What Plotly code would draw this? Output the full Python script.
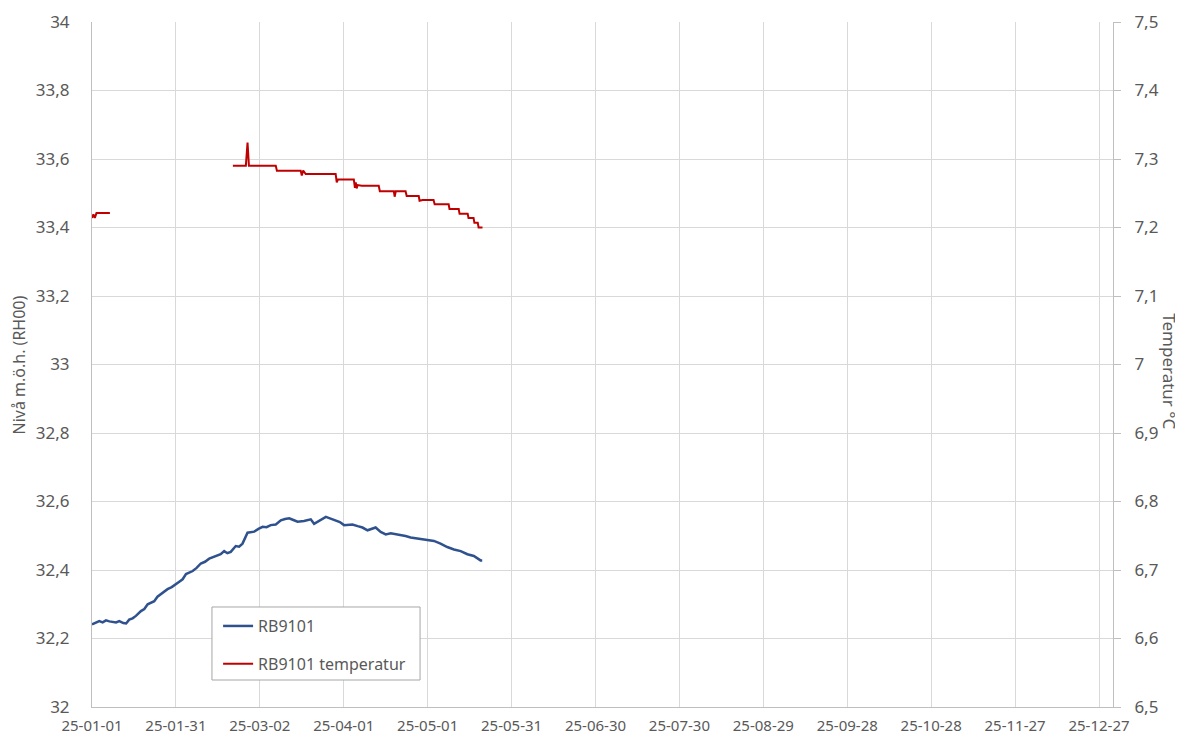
import pandas as pd
import plotly.graph_objects as go

# Level series (RB9101), days since 2025-01-01 and level in m.ö.h.
level_days = [0, 1.3, 2.6, 3.8, 5, 6.2, 7.4, 8.6, 9.75, 11.2, 12.2, 13.3, 14.5, 15.7, 17.5, 18.7,
              19.9, 21.0, 22.25, 23.4, 24.6, 25.8, 27.0, 28.5, 30, 31.2, 32.4, 33.6, 36, 37.4,
              38.9, 40.4, 41.9, 44.9, 46.0, 47.25, 48.4, 49.6, 51.4, 52.6, 53.8, 55.6, 58, 59.5,
              61, 62.4, 63.9, 65.7, 67.5, 69.0, 70.5, 72.0, 73.5, 75.8, 78.2, 79.4, 80, 81.8,
              83.6, 85.3, 87.1, 88.6, 90.1, 93.1, 95.0, 96.7, 98.5, 101.4, 103.2, 105, 106.8,
              108.6, 110.3, 112.1, 113.9, 115.7, 117.5, 119.3, 122.25, 124.6, 127, 129.4, 131.8,
              134.2, 136.5, 138.9, 139.5]
level_vals = [32.241, 32.247, 32.251, 32.247, 32.253, 32.250, 32.249, 32.247, 32.251, 32.245,
              32.244, 32.255, 32.259, 32.266, 32.280, 32.286, 32.300, 32.304, 32.309, 32.322,
              32.329, 32.337, 32.344, 32.350, 32.360, 32.366, 32.373, 32.388, 32.397, 32.406,
              32.419, 32.424, 32.433, 32.441, 32.446, 32.455, 32.449, 32.453, 32.470, 32.468,
              32.477, 32.509, 32.512, 32.520, 32.526, 32.525, 32.531, 32.533, 32.545, 32.549,
              32.551, 32.546, 32.541, 32.543, 32.548, 32.535, 32.538, 32.546, 32.555, 32.550,
              32.545, 32.540, 32.531, 32.533, 32.528, 32.524, 32.516, 32.524, 32.511, 32.504,
              32.507, 32.505, 32.502, 32.499, 32.495, 32.493, 32.490, 32.487, 32.485, 32.477,
              32.467, 32.460, 32.455, 32.446, 32.441, 32.428, 32.428]

# Temperature series (RB9101 temperatur), None marks the data gap
temp_days = [0, 0.5, 1.0, 1.6, 6.4, 20,
             50.36, 55.0, 55.6, 56.1, 65.7, 66.1, 74.6, 75.0, 75.5, 76.4, 87.1, 87.5, 87.9,
             93.6, 94.0, 94.3, 94.6, 95.0, 96.4, 102.5, 102.9, 107.9, 108.2, 108.6, 112.1,
             112.5, 113.2, 116.8, 117.1, 118.2, 122.1, 122.5, 127.5, 127.8, 131.1, 131.4,
             134.3, 134.6, 136.4, 136.7, 137.9, 138.2, 139.6]
temp_vals = [7.214, 7.219, 7.214, 7.221, 7.221, None,
             7.290, 7.290, 7.324, 7.290, 7.290, 7.283, 7.283, 7.276, 7.283, 7.278, 7.278, 7.266, 7.270,
             7.270, 7.258, 7.266, 7.257, 7.262, 7.261, 7.261, 7.253, 7.253, 7.245, 7.253, 7.253,
             7.246, 7.246, 7.246, 7.239, 7.240, 7.240, 7.234, 7.234, 7.227, 7.227, 7.220,
             7.220, 7.214, 7.214, 7.207, 7.207, 7.200, 7.200]

series_names = ["RB9101", "RB9101 temperatur"]
y_left_title = "Nivå m.ö.h. (RH00)"
y_right_title = "Temperatur °C"

start = pd.Timestamp("2025-01-01")
level_x = [start + pd.Timedelta(days=d) for d in level_days]
temp_x = [start + pd.Timedelta(days=d) for d in temp_days]

fig = go.Figure()
fig.add_trace(go.Scatter(x=level_x, y=level_vals, mode="lines", name=series_names[0],
                         line=dict(color="#2F528F", width=2.5), legendgroup="a"))
fig.add_trace(go.Scatter(x=temp_x, y=temp_vals, mode="lines", name=series_names[1],
                         line=dict(color="#C00000", width=2), yaxis="y2", legendgroup="b",
                         connectgaps=False))

font_family = "Noto Sans, Liberation Sans, sans-serif"
grid = "#D9D9D9"
tc = "#595959"

fig.update_layout(
    width=1183, height=735,
    margin=dict(l=84, r=78, t=14, b=36, autoexpand=False),
    paper_bgcolor="white", plot_bgcolor="white",
    separators=", ",
    font=dict(family=font_family, color=tc, size=14),
    showlegend=True,
    legend=dict(x=0.1235, y=0.143, xanchor="left", yanchor="top",
                bgcolor="rgba(0,0,0,0)", borderwidth=0,
                font=dict(size=16, color=tc), tracegroupgap=14, itemwidth=30),
    shapes=[dict(type="rect", xref="paper", yref="paper", x0=0.1175, x1=0.3213,
                 y0=0.0394, y1=0.146, fillcolor="white",
                 line=dict(color="#A6A6A6", width=1), layer="above")],
    xaxis=dict(type="date", range=["2025-01-01", "2026-01-01"],
               tick0="2025-01-01", dtick=30 * 86400000, tickformat="%y-%m-%d",
               showgrid=True, gridcolor=grid, gridwidth=1,
               showline=True, linecolor="#BFBFBF", linewidth=1,
               ticks="", tickfont=dict(size=15, color=tc), zeroline=False,
               ticklabelstandoff=5),
    yaxis=dict(range=[32, 34], dtick=0.2, tick0=32, showgrid=True, gridcolor=grid,
               showline=True, linecolor="#BFBFBF", linewidth=1, ticks="",
               tickfont=dict(size=17, color=tc), zeroline=False, ticklabelstandoff=18),
    yaxis2=dict(range=[6.5, 7.5], dtick=0.1, tick0=6.5, overlaying="y", side="right",
                showgrid=False, showline=True, linecolor="#BFBFBF", linewidth=1,
                ticks="outside", ticklen=7, tickcolor="#BFBFBF", ticklabelstandoff=10,
                tickfont=dict(size=17, color=tc), zeroline=False),
    annotations=[
        dict(text=y_left_title, xref="paper", yref="paper", x=-0.0715, y=0.5,
             xanchor="center", yanchor="middle", textangle=-90, showarrow=False,
             font=dict(size=16, color=tc)),
        dict(text=y_right_title, xref="paper", yref="paper", x=1.055, y=0.49,
             xanchor="center", yanchor="middle", textangle=90, showarrow=False,
             font=dict(size=17, color=tc)),
    ],
)

fig.write_html("out.html")
